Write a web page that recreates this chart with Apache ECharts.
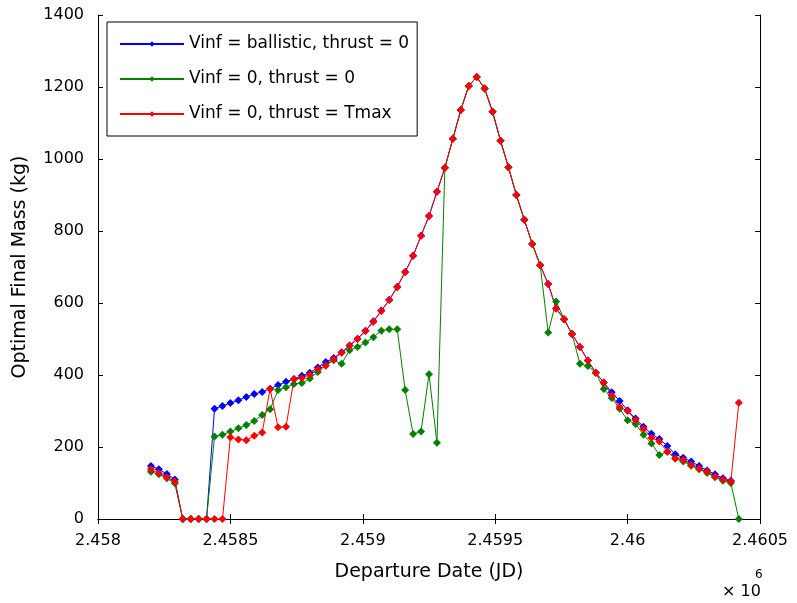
<!DOCTYPE html>
<html>
<head>
<meta charset="utf-8">
<script src="https://cdn.jsdelivr.net/npm/echarts/dist/echarts.min.js"></script>
<style>
    html, body { margin: 0; padding: 0; background: #fff; }
    #final-mass-chart { width: 797px; height: 603px; }
</style>
</head>
<body>
<div id="final-mass-chart"></div>
<script>
    // departure dates (JD), one every 30 days
    const departureDates = [
        2458200, 2458230, 2458260, 2458290, 2458320, 2458350, 2458380, 2458410, 2458440, 2458470,
        2458500, 2458530, 2458560, 2458590, 2458620, 2458650, 2458680, 2458710, 2458740, 2458770,
        2458800, 2458830, 2458860, 2458890, 2458920, 2458950, 2458980, 2459010, 2459040, 2459070,
        2459100, 2459130, 2459160, 2459190, 2459220, 2459250, 2459280, 2459310, 2459340, 2459370,
        2459400, 2459430, 2459460, 2459490, 2459520, 2459550, 2459580, 2459610, 2459640, 2459670,
        2459700, 2459730, 2459760, 2459790, 2459820, 2459850, 2459880, 2459910, 2459940, 2459970,
        2460000, 2460030, 2460060, 2460090, 2460120, 2460150, 2460180, 2460210, 2460240, 2460270,
        2460300, 2460330, 2460360, 2460390, 2460420
    ];

    // Vinf = ballistic, thrust = 0
    const massBallistic = [
        147, 138, 125, 110, 0, 0, 0, 0, 306, 314,
        322, 330, 339, 347, 353, 362, 372, 381, 389, 398,
        406, 421, 436, 447, 463, 482, 501, 523, 549, 579,
        609, 645, 686, 731, 787, 842, 909, 976, 1056, 1136,
        1203, 1228, 1196, 1131, 1051, 977, 900, 831, 764, 705,
        653, 585, 555, 514, 478, 440, 406, 379, 352, 328,
        302, 279, 256, 237, 222, 203, 180, 170, 160, 147,
        135, 124, 113, 106, null
    ];

    // Vinf = 0, thrust = 0
    const massZeroCoast = [
        131, 124, 113, 99, 0, 0, 0, 0, 229, 234,
        243, 252, 261, 272, 289, 305, 358, 366, 375, 378,
        390, 408, 427, 441, 431, 469, 478, 490, 505, 523,
        527, 527, 358, 236, 243, 402, 212, 976, 1056, 1136,
        1203, 1228, 1196, 1131, 1051, 977, 900, 831, 764, 705,
        518, 604, 555, 514, 431, 425, 406, 361, 336, 306,
        274, 264, 234, 210, 178, 187, 168, 160, 148, 138,
        128, 116, 106, 100, 0
    ];

    // Vinf = 0, thrust = Tmax
    const massMaxThrust = [
        138, 127, 116, 104, 0, 0, 0, 0, 0, 0,
        227, 221, 219, 231, 240, 361, 255, 256, 388, 392,
        401, 416, 426, 444, 462, 481, 500, 522, 548, 578,
        608, 644, 686, 731, 787, 842, 909, 976, 1056, 1136,
        1203, 1228, 1196, 1131, 1051, 977, 900, 831, 764, 705,
        653, 585, 555, 514, 478, 440, 406, 379, 343, 311,
        300, 275, 251, 226, 215, 187, 168, 164, 150, 140,
        131, 118, 110, 104, 323
    ];

    const seriesNames = ["Vinf = ballistic, thrust = 0", "Vinf = 0, thrust = 0", "Vinf = 0, thrust = Tmax"];
    const seriesColors = ["#0000ff", "#008000", "#ff0000"];

    const xTickValues = [2458000, 2458500, 2459000, 2459500, 2460000, 2460500];
    const xTickLabels = ["2.458", "2.4585", "2.459", "2.4595", "2.46", "2.4605"];

    const fontName = "DejaVu Sans";

    function pairUp(values) {
        let out = [];
        for (let i in departureDates) {
            out.push([departureDates[i], values[i]]);
        }
        return out;
    }

    function makeSeries(name, color, values) {
        return {
            name: name,
            type: "line",
            xAxisIndex: 0,
            yAxisIndex: 0,
            data: pairUp(values),
            symbol: "diamond",
            symbolSize: 8,
            showSymbol: true,
            connectNulls: false,
            animation: false,
            lineStyle: { color: color, width: 1 },
            itemStyle: { color: color }
        };
    }

    let boxAxis = {
        axisLine: { show: true, lineStyle: { color: "#000", width: 1 } },
        axisTick: { show: true, inside: true, length: 5, lineStyle: { color: "#000" } },
        splitLine: { show: false }
    };

    let chart = echarts.init(document.getElementById("final-mass-chart"));
    chart.setOption({
        backgroundColor: "#fff",
        animation: false,
        grid: {
            left: 98,
            right: 37,
            top: 15,
            bottom: 84
        },
        legend: {
            orient: "vertical",
            left: 107,
            top: 22,
            padding: [12, 8, 12, 12],
            itemGap: 15,
            itemWidth: 64,
            itemHeight: 7,
            backgroundColor: "#fff",
            borderColor: "#000",
            borderWidth: 1,
            borderRadius: 0,
            textStyle: { fontFamily: fontName, fontSize: 17, color: "#000", lineHeight: 20 },
            data: seriesNames
        },
        xAxis: [
            Object.assign({}, boxAxis, {
                type: "value",
                position: "bottom",
                min: 2458000,
                max: 2460500,
                interval: 500,
                name: "Departure Date (JD)",
                nameLocation: "middle",
                nameGap: 44,
                nameTextStyle: { fontFamily: fontName, fontSize: 19, color: "#000" },
                axisLabel: {
                    fontFamily: fontName,
                    fontSize: 16,
                    color: "#000",
                    margin: 14,
                    formatter: function (v) {
                        let k = xTickValues.indexOf(v);
                        return k >= 0 ? xTickLabels[k] : "";
                    }
                }
            }),
            Object.assign({}, boxAxis, {
                type: "value",
                position: "top",
                min: 2458000,
                max: 2460500,
                interval: 500,
                axisLabel: { show: false }
            })
        ],
        yAxis: [
            Object.assign({}, boxAxis, {
                type: "value",
                position: "left",
                min: 0,
                max: 1400,
                interval: 200,
                name: "Optimal Final Mass (kg)",
                nameLocation: "middle",
                nameGap: 68,
                nameTextStyle: { fontFamily: fontName, fontSize: 19, color: "#000" },
                axisLabel: {
                    fontFamily: fontName,
                    fontSize: 16,
                    color: "#000",
                    margin: 14,
                    formatter: function (v) {
                        return String(v);
                    }
                }
            }),
            Object.assign({}, boxAxis, {
                type: "value",
                position: "right",
                min: 0,
                max: 1400,
                interval: 200,
                axisLabel: { show: false }
            })
        ],
        graphic: [
            {
                type: "text",
                left: 722,
                top: 584,
                style: { text: "× 10", font: "16px " + fontName, fill: "#000" }
            },
            {
                type: "text",
                left: 755,
                top: 569,
                style: { text: "6", font: "12px " + fontName, fill: "#000" }
            }
        ],
        series: [
            makeSeries(seriesNames[0], seriesColors[0], massBallistic),
            makeSeries(seriesNames[1], seriesColors[1], massZeroCoast),
            makeSeries(seriesNames[2], seriesColors[2], massMaxThrust)
        ]
    });
</script>
</body>
</html>
